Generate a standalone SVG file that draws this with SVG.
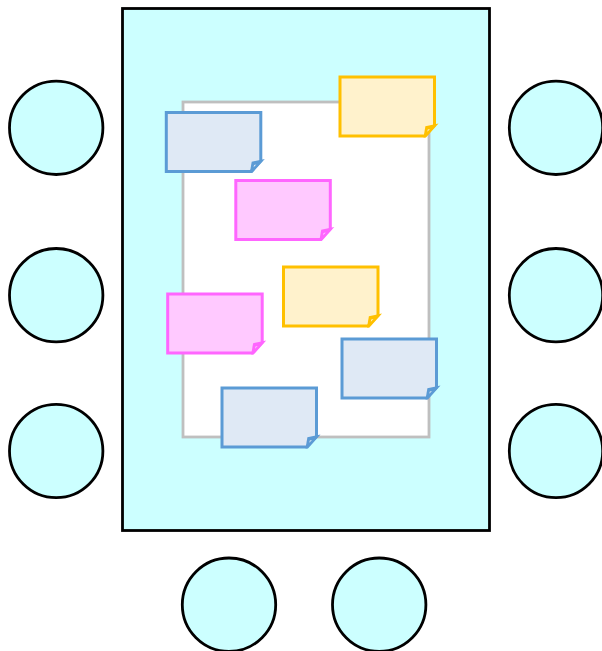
<svg xmlns="http://www.w3.org/2000/svg" width="602" height="651" viewBox="0 0 602 651">
<defs>
<g id="note">
<path d="M0,0H94.500V48.500L84.500,59H0Z"/>
<path d="M83.500,60.500L85.400,49.200L98.500,46.600L86,60.500Z" fill="currentColor" stroke="none"/>
<path d="M87.300,54.800L87.800,52.400L90,51.900Z" stroke="none"/>
</g>
</defs>
<style>
.seat{fill:#ccffff;stroke:#000;stroke-width:2.800}
.blue{fill:#dfe9f5;stroke:#5b9bd5;color:#5b9bd5;stroke-width:3}
.gold{fill:#fff2cc;stroke:#ffc000;color:#ffc000;stroke-width:3}
.pink{fill:#ffc9ff;stroke:#ff66ff;color:#ff66ff;stroke-width:3}
</style>
<g id="table"><rect x="122.500" y="8.500" width="367" height="522" fill="#ccffff" stroke="#000" stroke-width="2.800"/></g>
<g id="sheet"><rect x="183" y="102" width="246" height="335" fill="#fff" stroke="#bfbfbf" stroke-width="2.800"/></g>
<g id="seat-1"><circle class="seat" cx="56.200" cy="127.800" r="46.700"/></g>
<g id="seat-2"><circle class="seat" cx="56.200" cy="295.200" r="46.700"/></g>
<g id="seat-3"><circle class="seat" cx="56.200" cy="451" r="46.700"/></g>
<g id="seat-4"><circle class="seat" cx="556" cy="127.800" r="46.700"/></g>
<g id="seat-5"><circle class="seat" cx="556" cy="295.200" r="46.700"/></g>
<g id="seat-6"><circle class="seat" cx="556" cy="451" r="46.700"/></g>
<g id="seat-7"><circle class="seat" cx="229" cy="604.700" r="46.700"/></g>
<g id="seat-8"><circle class="seat" cx="379.200" cy="604.700" r="46.700"/></g>
<g id="note-1" class="gold" transform="translate(340,77)"><use href="#note"/></g>
<g id="note-2" class="blue" transform="translate(166.300,112.500)"><use href="#note"/></g>
<g id="note-3" class="pink" transform="translate(235.800,180.500)"><use href="#note"/></g>
<g id="note-4" class="gold" transform="translate(283.500,267)"><use href="#note"/></g>
<g id="note-5" class="pink" transform="translate(167.700,294)"><use href="#note"/></g>
<g id="note-6" class="blue" transform="translate(342,339)"><use href="#note"/></g>
<g id="note-7" class="blue" transform="translate(222,388)"><use href="#note"/></g>
</svg>
